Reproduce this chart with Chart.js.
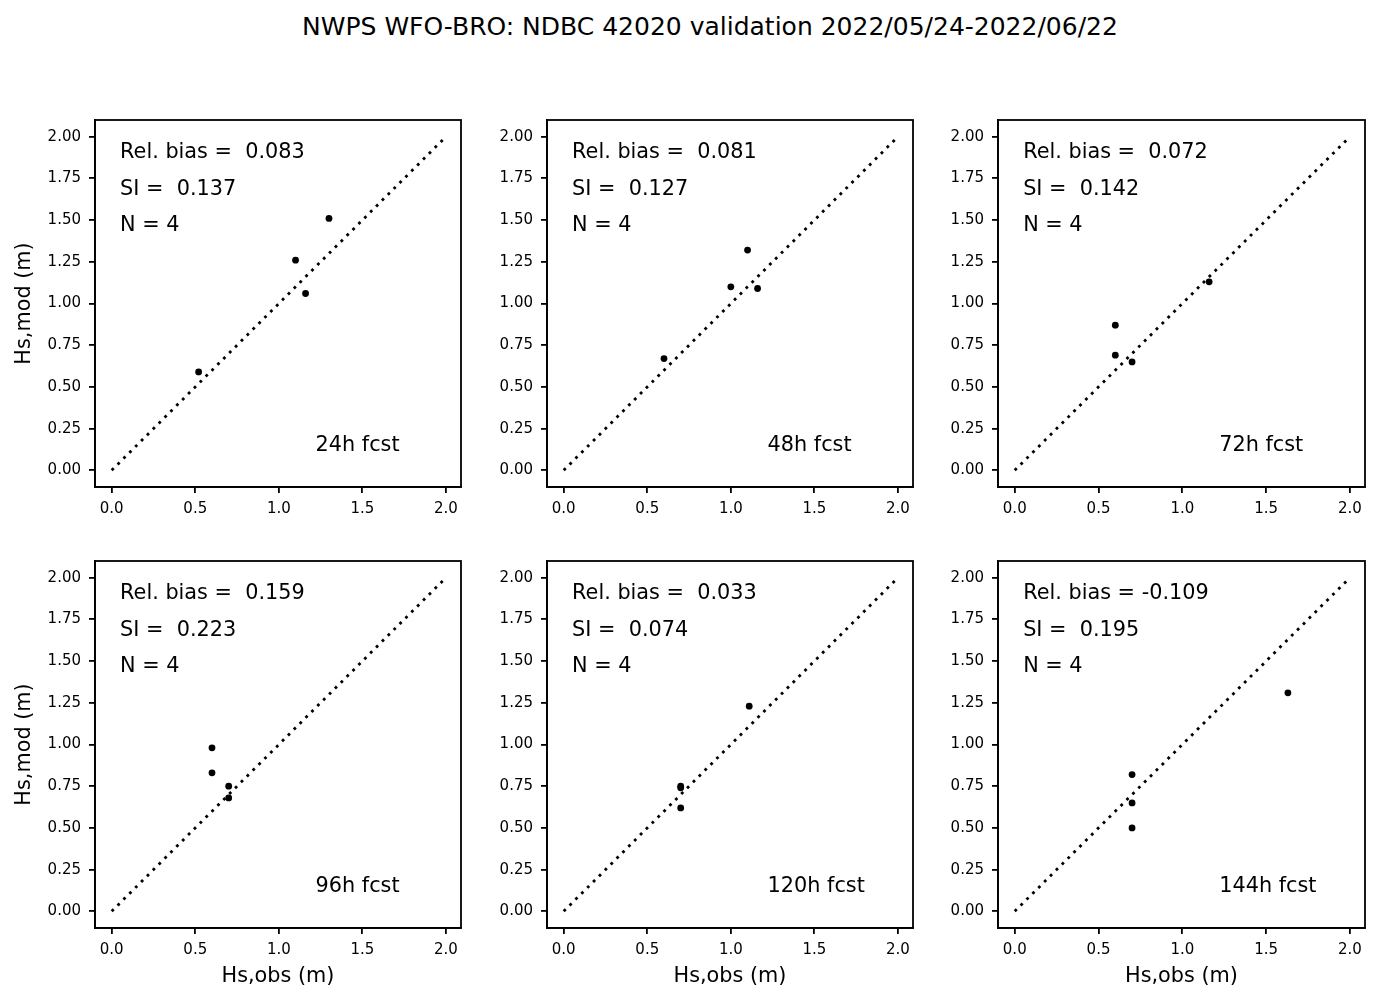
<!DOCTYPE html>
<html><head><meta charset="utf-8">
<script src="https://cdn.jsdelivr.net/npm/chart.js@4"></script>
<style>
body{margin:0;background:#fff;width:1380px;height:1004px;position:relative;overflow:hidden;font-family:"DejaVu Sans",sans-serif}
#title{position:absolute;left:0;top:12px;width:1420px;text-align:center;font-size:25px;line-height:30px;color:#000}
canvas{position:absolute}
</style></head>
<body>
<div id="title">NWPS WFO-BRO: NDBC 42020 validation 2022/05/24-2022/06/22</div>
<script>
// ---- data ----
const panelLabels = ['24h fcst','48h fcst','72h fcst','96h fcst','120h fcst','144h fcst'];
const relBias = [' 0.083',' 0.081',' 0.072',' 0.159',' 0.033','-0.109'];
const scatterIdx = [' 0.137',' 0.127',' 0.142',' 0.223',' 0.074',' 0.195'];
const nObs = [4,4,4,4,4,4];
const obs24  = [0.52, 1.10, 1.16, 1.30];
const mod24  = [0.59, 1.26, 1.06, 1.51];
const obs48  = [0.60, 1.00, 1.10, 1.16];
const mod48  = [0.67, 1.10, 1.32, 1.09];
const obs72  = [0.60, 0.60, 0.70, 1.16];
const mod72  = [0.87, 0.69, 0.65, 1.13];
const obs96  = [0.60, 0.60, 0.70, 0.70];
const mod96  = [0.98, 0.83, 0.75, 0.68];
const obs120 = [0.70, 0.70, 0.70, 1.11];
const mod120 = [0.75, 0.74, 0.62, 1.23];
const obs144 = [0.70, 0.70, 0.70, 1.63];
const mod144 = [0.82, 0.65, 0.50, 1.31];
const oneToOne = [0, 2];
const xTicks = [0, 0.5, 1.0, 1.5, 2.0];
const yTicks = [0, 0.25, 0.5, 0.75, 1.0, 1.25, 1.5, 1.75, 2.0];
const xTitle = 'Hs,obs (m)';
const yTitle = 'Hs,mod (m)';

const obsAll = [obs24, obs48, obs72, obs96, obs120, obs144];
const modAll = [mod24, mod48, mod72, mod96, mod120, mod144];

// ---- layout ----
const colLeft = [95, 547, 998];
const colWidth = [366, 366, 367];
const rowTop = [120, 561];
const plotH = 367;
const LEFT = 95, TOP = 10, RIGHT = 10, BOTTOM = 70;
const FONT = 'DejaVu Sans';

const framePlugin = {
  id: 'frame',
  afterDraw(chart) {
    const {ctx, chartArea: a} = chart;
    ctx.save();
    ctx.strokeStyle = '#000';
    ctx.lineWidth = 1.8;
    ctx.strokeRect(a.left, a.top, a.right - a.left, a.bottom - a.top);
    ctx.restore();
  }
};

const textPlugin = {
  id: 'annot',
  afterDatasetsDraw(chart, args, opts) {
    const {ctx, scales: {x, y}} = chart;
    ctx.save();
    ctx.fillStyle = '#000';
    ctx.font = '20.8px "' + FONT + '"';
    ctx.textBaseline = 'alphabetic';
    ctx.textAlign = 'left';
    const x0 = x.getPixelForValue(0.05);
    ctx.fillText('Rel. bias = ' + opts.bias, x0, y.getPixelForValue(1.872));
    ctx.fillText('SI =  ' + opts.si.trim(), x0, y.getPixelForValue(1.653));
    ctx.fillText('N = ' + opts.n, x0, y.getPixelForValue(1.437));
    ctx.fillText(opts.label, x.getPixelForValue(1.22), y.getPixelForValue(0.116));
    ctx.restore();
  }
};

for (let p = 0; p < 6; p++) {
  const row = Math.floor(p / 3), col = p % 3;
  const cv = document.createElement('canvas');
  const w = LEFT + colWidth[col] + RIGHT, h = TOP + plotH + BOTTOM;
  cv.width = w; cv.height = h;
  cv.style.width = w + 'px'; cv.style.height = h + 'px';
  cv.style.left = (colLeft[col] - LEFT) + 'px';
  cv.style.top = (rowTop[row] - TOP) + 'px';
  document.body.appendChild(cv);

  const obs = obsAll[p], mod = modAll[p];
  new Chart(cv, {
    type: 'scatter',
    data: {
      datasets: [
        {
          type: 'line',
          data: oneToOne.map(v => ({x: v, y: v})),
          borderColor: '#000', borderWidth: 2.8, borderDash: [2.8, 5.5],
          pointRadius: 0, fill: false, tension: 0
        },
        {
          data: obs.map((v, i) => ({x: v, y: mod[i]})),
          backgroundColor: '#000', borderColor: '#000',
          pointRadius: 3.4, pointBorderWidth: 0
        }
      ]
    },
    options: {
      responsive: false, animation: false, devicePixelRatio: 1,
      layout: {padding: {top: TOP, right: RIGHT, left: 0, bottom: 0}},
      plugins: {
        legend: {display: false}, tooltip: {enabled: false},
        annot: {bias: relBias[p], si: scatterIdx[p], n: nObs[p], label: panelLabels[p]}
      },
      scales: {
        x: {
          type: 'linear', min: -0.1, max: 2.09,
          afterFit(s) { s.height = BOTTOM; s.paddingLeft = 0; s.paddingRight = 0; },
          afterBuildTicks(s) { s.ticks = xTicks.map(v => ({value: v})); },
          ticks: {callback: v => Number(v).toFixed(1), font: {size: 15, family: FONT}, color: '#000', padding: 7, maxRotation: 0, autoSkip: false},
          grid: {display: true, drawOnChartArea: false, drawTicks: true, tickLength: 6, color: '#000', lineWidth: 1.8},
          border: {display: true, color: '#000', width: 1.8},
          title: {display: row === 1, text: xTitle, color: '#000', font: {size: 20.8, family: FONT}, padding: {top: 8.5, bottom: 8.5}}
        },
        y: {
          type: 'linear', min: -0.1, max: 2.1,
          afterFit(s) { s.width = LEFT; s.paddingTop = 0; s.paddingBottom = 0; },
          afterBuildTicks(s) { s.ticks = yTicks.map(v => ({value: v})); },
          ticks: {callback: v => Number(v).toFixed(2), font: {size: 15, family: FONT}, color: '#000', padding: 8, autoSkip: false},
          grid: {display: true, drawOnChartArea: false, drawTicks: true, tickLength: 6, color: '#000', lineWidth: 1.8},
          border: {display: true, color: '#000', width: 1.8},
          title: {display: col === 0, text: yTitle, color: '#000', font: {size: 20.8, family: FONT}, padding: {top: 12.5, bottom: 12.5}}
        }
      }
    },
    plugins: [framePlugin, textPlugin]
  });
}
</script>
</body></html>
